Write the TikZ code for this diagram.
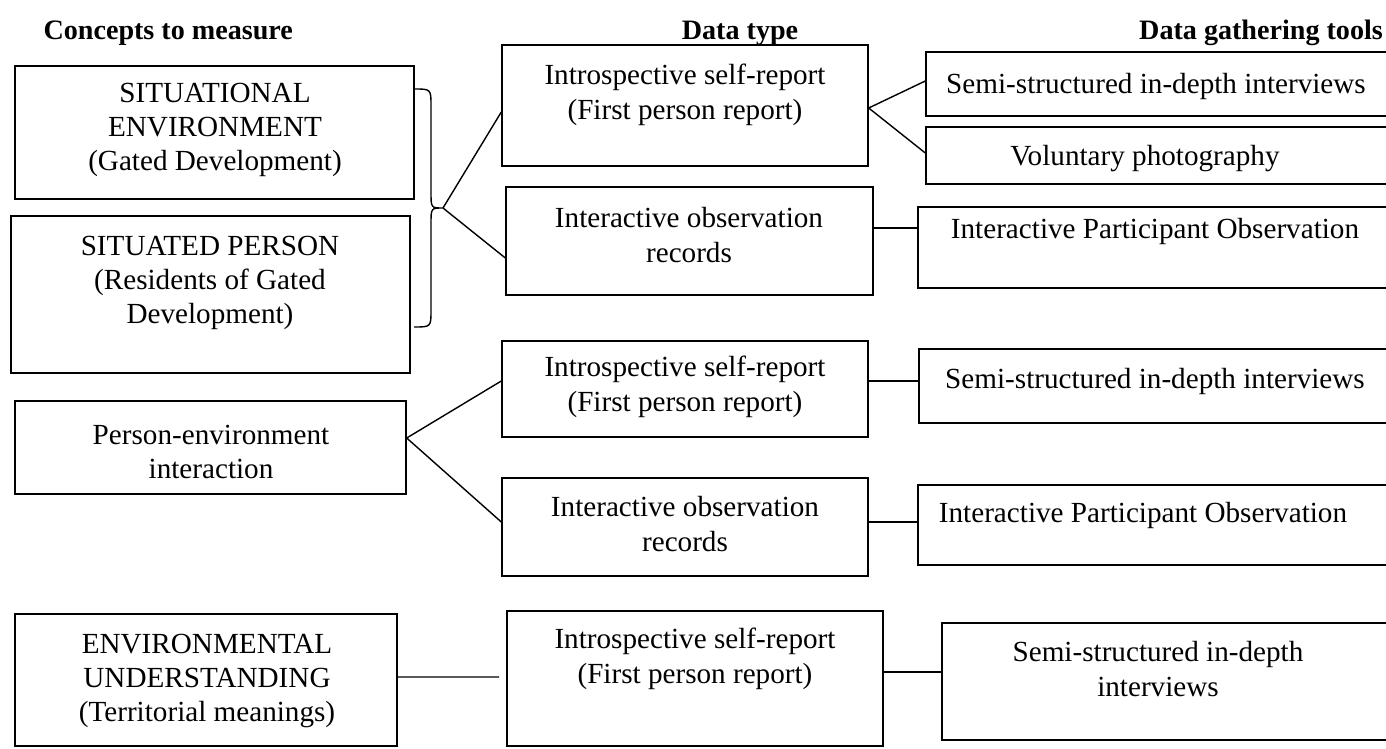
\documentclass[tikz,border=0pt]{standalone}
\usepackage{fontspec}
\setmainfont{Liberation Serif}
\usetikzlibrary{fit}
\tikzset{
  box/.style={draw, line width=0.8pt, inner sep=0pt},
  txt/.style={align=center, font=\fontsize{16.6}{19.6}\selectfont},
  head/.style={font=\fontsize{16}{19.3}\selectfont\bfseries}
}
\begin{document}
\begin{tikzpicture}[x=0.02cm, y=-0.02cm, line width=0.8pt]
    \clip (0,0) rectangle (1386,749);
    \node[head, anchor=west] (hconcept) at (37,33) {Concepts to measure};
    \node[head] (htype) at (740,33) {Data type};
    \node[head] (htools) at (1261,33) {Data gathering tools};

    \node[box, fit={(15,66) (414,199)}] (se) {};
    \node[txt] (se-t) at (215,130) {SITUATIONAL\\ENVIRONMENT\\(Gated Development)};
    \node[box, fit={(11,216) (410,373)}] (sp) {};
    \node[txt] (sp-t) at (210,283) {SITUATED PERSON\\(Residents of Gated\\Development)};
    \node[box, fit={(15,401) (406,494)}] (pei) {};
    \node[txt] (pei-t) at (211,452) {Person-environment\\interaction};
    \node[box, fit={(15,614) (397,746)}] (eu) {};
    \node[txt] (eu-t) at (207,681) {ENVIRONMENTAL\\UNDERSTANDING\\(Territorial meanings)};

    \node[box, fit={(502,45) (868,166)}] (isrA) {};
    \node[txt] (isrA-t) at (685,95) {Introspective self-report\\(First person report)};
    \node[box, fit={(506,187) (873,295)}] (iorA) {};
    \node[txt] (iorA-t) at (689,235) {Interactive observation\\records};
    \node[box, fit={(502,341) (868,437)}] (isrB) {};
    \node[txt] (isrB-t) at (685,387) {Introspective self-report\\(First person report)};
    \node[box, fit={(502,478) (868,576)}] (iorB) {};
    \node[txt] (iorB-t) at (685,524) {Interactive observation\\records};
    \node[box, fit={(507,611) (883,746)}] (isrC) {};
    \node[txt] (isrC-t) at (695,659) {Introspective self-report\\(First person report)};

    \node[box, fit={(926,52) (1392,116)}] (ssiA) {};
    \node[txt] (ssiA-t) at (1156,86) {Semi-structured in-depth interviews};
    \node[box, fit={(926,127) (1392,184)}] (vp) {};
    \node[txt] (vp-t) at (1145,159) {Voluntary photography};
    \node[box, fit={(918,207) (1392,288)}] (ipoA) {};
    \node[txt] (ipoA-t) at (1155,231) {Interactive Participant Observation};
    \node[box, fit={(919,349) (1392,423)}] (ssiB) {};
    \node[txt] (ssiB-t) at (1155,381) {Semi-structured in-depth interviews};
    \node[box, fit={(918,485) (1392,565)}] (ipoB) {};
    \node[txt] (ipoB-t) at (1143,515) {Interactive Participant Observation};
    \node[box, fit={(942,623) (1392,740)}] (ssiC) {};
    \node[txt] (ssiC-t) at (1158,669) {Semi-structured in-depth\\interviews};

    \coordinate (tip) at (443,208);
    \draw (414,89) .. controls (431,89) .. (431,106) -- (431,192)
      .. controls (431,208) .. (tip) .. controls (431,208) .. (431,224)
      -- (431,310) .. controls (431,327) .. (414,327);
    \draw (tip) -- ([yshift=-0.13cm]isrA.west);
    \draw (tip) -- ([yshift=-0.34cm]iorA.west);
    \draw ([yshift=-0.05cm]isrA.east) -- ([yshift=0.06cm]ssiA.west);
    \draw ([yshift=-0.05cm]isrA.east) -- ([yshift=0.05cm]vp.west);
    \draw ([yshift=0.39cm]ipoA.west) -- ([yshift=0.39cm]ipoA.west -| iorA.east);

    \draw ([yshift=0.19cm]pei.east) -- ([yshift=0.16cm]isrB.west);
    \draw ([yshift=0.19cm]pei.east) -- ([yshift=0.1cm]iorB.west);
    \draw ([yshift=0.1cm]ssiB.west) -- ([yshift=0.1cm]ssiB.west -| isrB.east);
    \draw ([yshift=0.06cm]ipoB.west) -- ([yshift=0.06cm]ipoB.west -| iorB.east);

    \coordinate (euend) at (499,677);
    \draw ([yshift=0.06cm]eu.east) -- (euend);
    \draw ([yshift=0.19cm]ssiC.west) -- ([yshift=0.19cm]ssiC.west -| isrC.east);
\end{tikzpicture}
\end{document}
